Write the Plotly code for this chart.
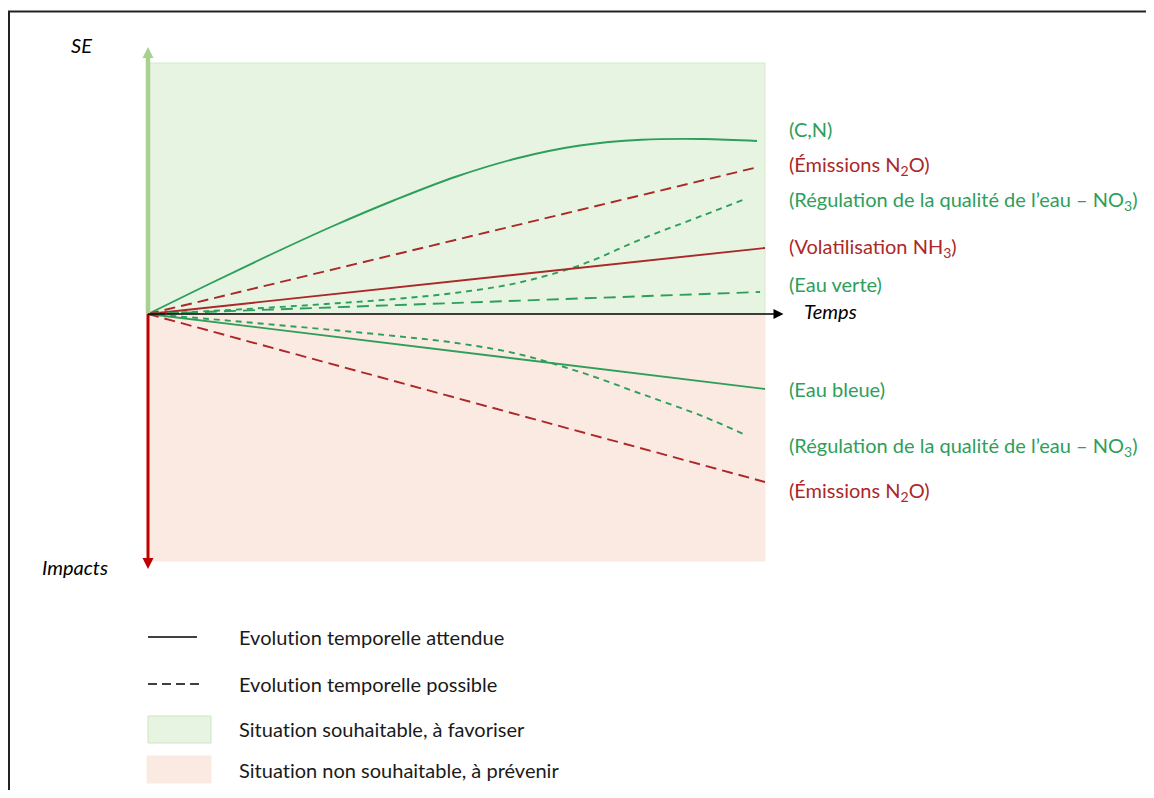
import plotly.graph_objects as go

# ---------------- data (time units, index values) ----------------
cn_t = [0, 1, 2, 3, 4, 5, 6, 7, 8, 9, 9.87]
cn_v = [0, 0.121, 0.239, 0.352, 0.456, 0.55, 0.624, 0.674, 0.697, 0.70, 0.692]

n2o_up_t = [0, 9.89]
n2o_up_v = [0, 0.588]

no3_up_t = [0, 1, 2, 3, 4, 5, 6, 7, 8, 9, 9.64]
no3_up_v = [0, 0.012, 0.026, 0.042, 0.06, 0.085, 0.125, 0.195, 0.30, 0.395, 0.456]

nh3_t = [0, 10]
nh3_v = [0, 0.264]

verte_t = [0, 9.92]
verte_v = [0, 0.088]

bleue_t = [0, 10]
bleue_v = [0, -0.30]

no3_dn_t = [0, 1, 2, 3, 4, 5, 6, 7, 8, 9, 9.68]
no3_dn_v = [0, -0.02, -0.042, -0.064, -0.088, -0.116, -0.16, -0.232, -0.32, -0.41, -0.484]

n2o_dn_t = [0, 10]
n2o_dn_v = [0, -0.672]

# regions
zone_t = [0, 10]
zone_good = [0, 1.004]
zone_bad = [0, -0.988]

# axes extents
se_top = 1.068
impact_bottom = -1.02
time_end = 10.3

labels = [
    ("(C,N)", "green", 129),
    ("(Émissions N<sub>2</sub>O)", "red", 165),
    ("(Régulation de la qualité de l’eau – NO<sub>3</sub>)", "green", 201),
    ("(Volatilisation NH<sub>3</sub>)", "red", 248),
    ("(Eau verte)", "green", 284),
    ("(Eau bleue)", "green", 389),
    ("(Régulation de la qualité de l’eau – NO<sub>3</sub>)", "green", 446),
    ("(Émissions N<sub>2</sub>O)", "red", 491),
]
ZWNJ = "\u200c"  # keeps "ti" from being drawn as a ligature
legend_items = [
    "Evolut" + ZWNJ + "ion temporelle attendue",
    "Evolut" + ZWNJ + "ion temporelle possible",
    "Situat" + ZWNJ + "ion souhaitable, à favoriser",
    "Situat" + ZWNJ + "ion non souhaitable, à prévenir",
]

# ---------------- style ----------------
SCREEN_W, SCREEN_H = 1154, 798
OFF = 8  # default page body margin
W, H = SCREEN_W - 2 * OFF, SCREEN_H - 2 * OFF
PX0, PY0, SX, SY = 148, 314, 61.7, 250.0
GREEN = "#2e9e5b"
RED = "#ab2828"
FONT = "Lato"
COL = {"green": GREEN, "red": RED}
FS = 20


def px(x):
    return (x - OFF) / W


def py(y):
    return 1 - (y - OFF) / H


fig = go.Figure()

# regions
fig.add_shape(type="rect", xref="x", yref="y", x0=zone_t[0], x1=zone_t[1],
              y0=zone_good[0], y1=zone_good[1], fillcolor="#e7f4e1",
              line=dict(color="#d3eac8", width=1), layer="below")
fig.add_shape(type="rect", xref="x", yref="y", x0=zone_t[0], x1=zone_t[1],
              y0=zone_bad[0], y1=zone_bad[1], fillcolor="#fbeae1",
              line=dict(color="#fbeae1", width=1), layer="below")


def line(t, v, color, dash="solid", shape="linear", width=1.9):
    fig.add_trace(go.Scatter(x=t, y=v, mode="lines",
                             line=dict(color=color, dash=dash, shape=shape, width=width,
                                       smoothing=1.0 if shape == "spline" else None),
                             showlegend=False, hoverinfo="skip"))


# axis arrows (shafts)
HEAD_G, HEAD_R, HEAD_K = 11, 11, 10
fig.add_shape(type="line", xref="x", yref="y", x0=0, x1=0, y0=0,
              y1=se_top - (HEAD_G - 1) / SY, line=dict(color="#a9d18e", width=4.5))
fig.add_shape(type="line", xref="x", yref="y", x0=0, x1=0, y0=0,
              y1=impact_bottom + (HEAD_R - 1) / SY, line=dict(color="#c00000", width=3))
fig.add_shape(type="line", xref="x", yref="y", x0=0, x1=time_end - (HEAD_K - 1) / SX,
              y0=0, y1=0, line=dict(color="black", width=1.5))

line(cn_t, cn_v, GREEN, shape="spline")
line(n2o_up_t, n2o_up_v, RED, dash="11px,6px")
line(no3_up_t, no3_up_v, GREEN, dash="6px,5px", shape="spline")
line(nh3_t, nh3_v, RED)
line(verte_t, verte_v, GREEN, dash="12px,7px")
line(bleue_t, bleue_v, GREEN)
line(no3_dn_t, no3_dn_v, GREEN, dash="6px,5px", shape="spline")
line(n2o_dn_t, n2o_dn_v, RED, dash="11px,6px")

# arrow heads (arrow symbols have their tip at the marker position)
fig.add_trace(go.Scatter(x=[0], y=[se_top], mode="markers",
                         marker=dict(symbol="arrow-up", size=HEAD_G, color="#a9d18e",
                                     line=dict(width=0)),
                         showlegend=False, hoverinfo="skip"))
fig.add_trace(go.Scatter(x=[0], y=[impact_bottom], mode="markers",
                         marker=dict(symbol="arrow-down", size=HEAD_R, color="#c00000",
                                     line=dict(width=0)),
                         showlegend=False, hoverinfo="skip"))
fig.add_trace(go.Scatter(x=[time_end], y=[0], mode="markers",
                         marker=dict(symbol="arrow-right", size=HEAD_K, color="black",
                                     line=dict(width=0)),
                         showlegend=False, hoverinfo="skip"))

annotations = []
# series labels
for txt, c, yy in labels:
    annotations.append(dict(x=px(787), y=py(yy), xref="paper", yref="paper", text=txt,
                            showarrow=False, xanchor="left", yanchor="middle",
                            font=dict(family=FONT, size=FS, color=COL[c])))

annotations.append(dict(x=px(802), y=py(311), xref="paper", yref="paper", text="<i>Temps</i>",
                        showarrow=False, xanchor="left", yanchor="middle",
                        font=dict(family=FONT, size=FS, color="black")))
annotations.append(dict(x=px(69), y=py(45), xref="paper", yref="paper", text="<i>SE</i>",
                        showarrow=False, xanchor="left", yanchor="middle",
                        font=dict(family=FONT, size=FS, color="black")))
annotations.append(dict(x=px(40), y=py(567), xref="paper", yref="paper", text="<i>Impacts</i>",
                        showarrow=False, xanchor="left", yanchor="middle",
                        font=dict(family=FONT, size=FS, color="black")))

# legend
leg_y = [637, 684, 729, 770]
for txt, yy in zip(legend_items, leg_y):
    annotations.append(dict(x=px(237), y=py(yy), xref="paper", yref="paper", text=txt,
                            showarrow=False, xanchor="left", yanchor="middle",
                            font=dict(family=FONT, size=FS, color="#1a1a1a")))

shapes_extra = [
    dict(type="line", xref="paper", yref="paper", x0=px(148), x1=px(197), y0=py(637), y1=py(637),
         line=dict(color="black", width=1.5)),
    dict(type="line", xref="paper", yref="paper", x0=px(148), x1=px(200), y0=py(684), y1=py(684),
         line=dict(color="black", width=1.5, dash="9px,5px")),
    dict(type="rect", xref="paper", yref="paper", x0=px(148), x1=px(211), y0=py(716), y1=py(743),
         fillcolor="#e7f4e1", line=dict(color="#cde6c2", width=1)),
    dict(type="rect", xref="paper", yref="paper", x0=px(147), x1=px(211), y0=py(756), y1=py(783),
         fillcolor="#fbeae1", line=dict(color="#fbeae1", width=1)),
    # picture frame
    dict(type="line", xref="paper", yref="paper", x0=px(8), x1=1, y0=py(11.5), y1=py(11.5),
         line=dict(color="#222222", width=2)),
    dict(type="line", xref="paper", yref="paper", x0=px(9), x1=px(9), y0=py(11), y1=0,
         line=dict(color="#222222", width=2)),
]
for s in shapes_extra:
    fig.add_shape(**s)

fig.update_layout(
    width=W, height=H,
    margin=dict(l=0, r=0, t=0, b=0),
    paper_bgcolor="white", plot_bgcolor="white",
    xaxis=dict(range=[(OFF - PX0) / SX, (SCREEN_W - OFF - PX0) / SX], visible=False, fixedrange=True),
    yaxis=dict(range=[(PY0 - (SCREEN_H - OFF)) / SY, (PY0 - OFF) / SY], visible=False, fixedrange=True),
    annotations=annotations,
    showlegend=False,
)

fig.write_html("out.html", config={"displayModeBar": False})
